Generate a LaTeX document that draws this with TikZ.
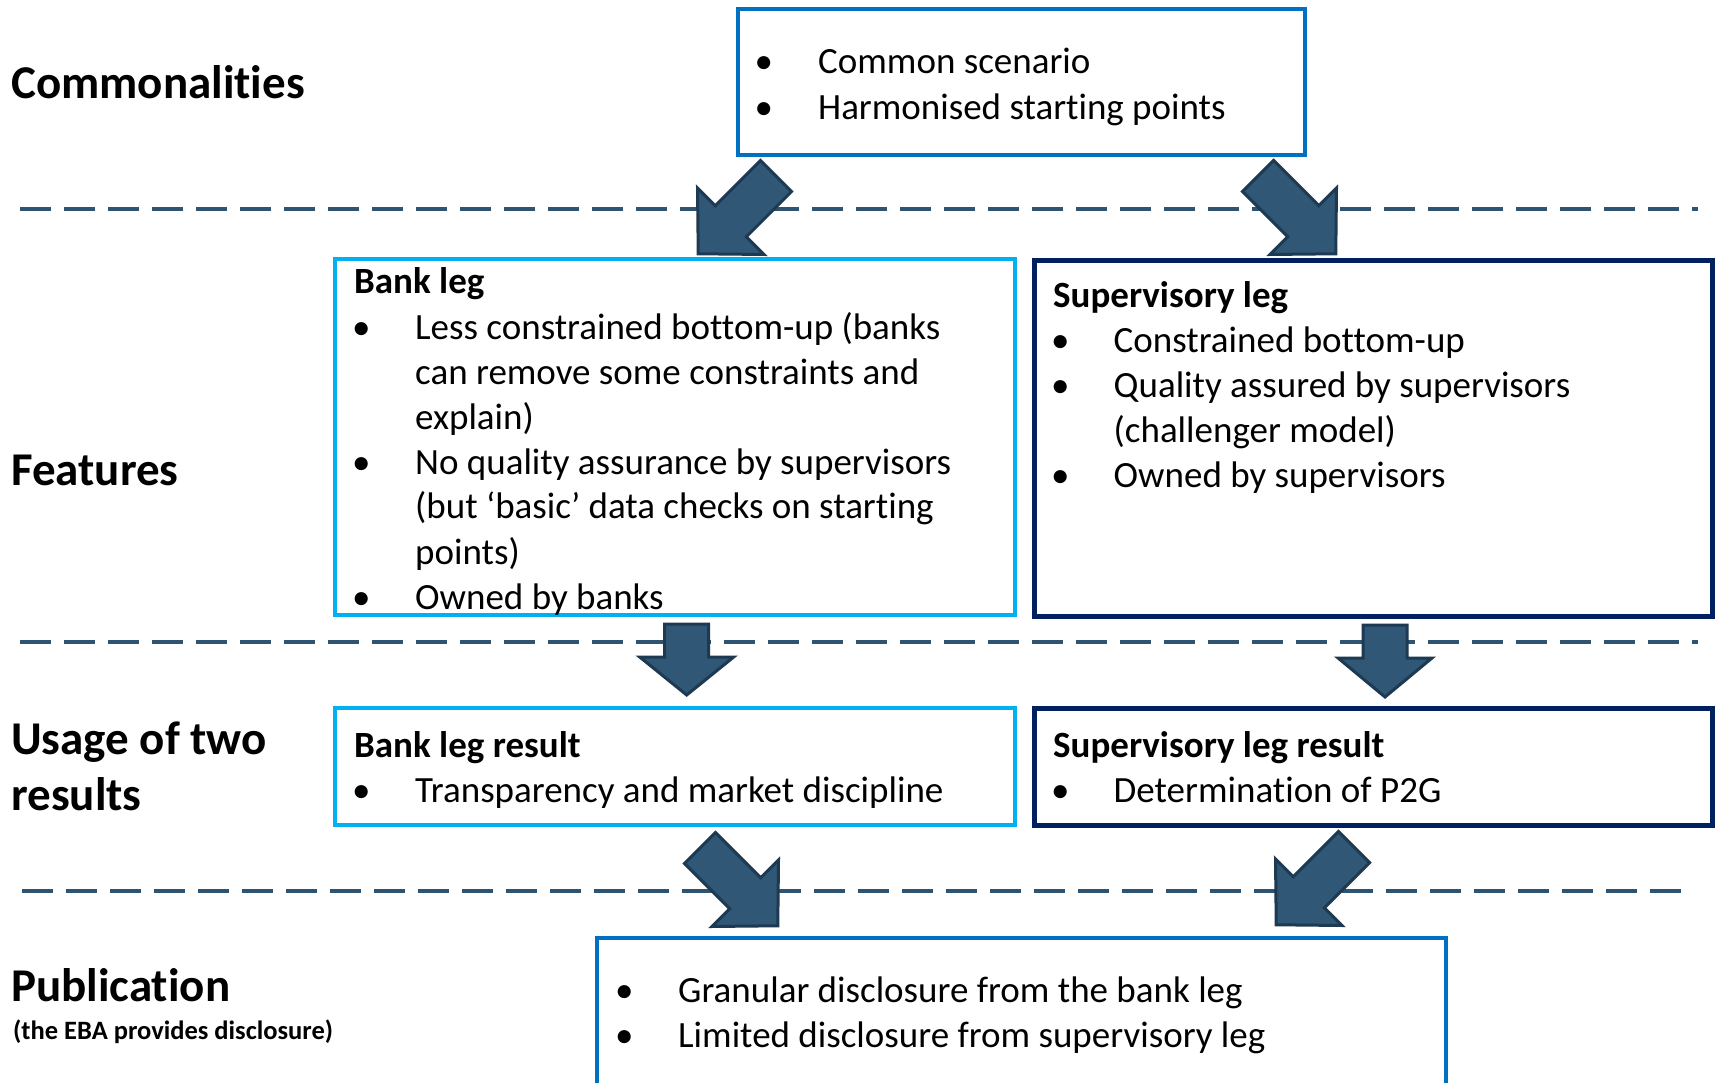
\documentclass[tikz,border=0pt]{standalone}
\usepackage{fontspec}
\setmainfont{Carlito}[Ligatures=NoCommon]
\definecolor{lblue}{RGB}{0,176,240}
\definecolor{mblue}{RGB}{0,112,192}
\definecolor{navyc}{RGB}{0,32,96}
\definecolor{arrfill}{RGB}{48,87,117}
\definecolor{arrdraw}{RGB}{30,57,82}
\definecolor{dashc}{RGB}{46,84,114}
\newcommand\blkarrow[5]{%
  \begin{scope}[shift={(#1,#2)}, rotate=#3]
    \filldraw[blockarrow] (0,22)--({#4-#5},22)--({#4-#5},47)--(#4,0)--({#4-#5},-47)--({#4-#5},-22)--(0,-22)--cycle;
  \end{scope}}
\newcommand\boxhead[1]{\multicolumn{2}{@{}l@{}}{\hspace{2pt}\bfseries #1}}
\begin{document}
\begin{tikzpicture}[x=1pt,y=1pt,
  box/.style={draw=#1, rectangle, inner sep=0pt, outer sep=0pt, anchor=north west},
  body/.style={anchor=base west, inner sep=0pt, font=\fontsize{37}{45}\selectfont},
  head/.style={anchor=base west, inner sep=0pt, font=\fontsize{47}{56}\selectfont\bfseries},
  sep/.style={draw=dashc, line width=3.3pt, dash pattern=on 31pt off 13pt},
  blockarrow/.style={fill=arrfill, draw=arrdraw, line width=3pt, line join=miter}]
\useasboundingbox (0,0) rectangle (1715,-1083);
\clip (0,0) rectangle (1715,-1083);
\fill[white] (0,0) rectangle (1715,-1083);

% separators
\coordinate (s1a) at (20,-209);  \coordinate (s1b) at (1698,-209);
\coordinate (s2a) at (20,-642);  \coordinate (s2b) at (1698,-642);
\coordinate (s3a) at (22,-891);  \coordinate (s3b) at (1682,-891);
\draw[sep] (s1a) -- (s1b);
\draw[sep] (s2a) -- (s2b);
\draw[sep] (s3a) -- (s3b);

% boxes
\node[box=mblue, line width=4.5pt, minimum width=567pt, minimum height=146pt] (bcom) at (738,-9) {};
\node[box=lblue, line width=4pt, minimum width=680pt, minimum height=356pt] (bbank) at (335,-259) {};
\node[box=navyc, line width=5pt, minimum width=678pt, minimum height=355pt] (bsup) at (1034,-261) {};
\node[box=lblue, line width=4pt, minimum width=680pt, minimum height=117pt] (bbankres) at (335,-708) {};
\node[box=navyc, line width=5pt, minimum width=678pt, minimum height=117pt] (bsupres) at (1034,-708) {};
\node[box=mblue, line width=4.5pt, minimum width=849pt, minimum height=200pt] (bpub) at (597,-938) {};

% block arrows
\blkarrow{776}{-176}{225}{110}{46}
\blkarrow{1258}{-176}{-45}{110}{46}
\blkarrow{686.7}{-624}{-90}{71}{38}
\blkarrow{1385}{-625}{-90}{72}{39}
\blkarrow{700}{-848}{-45}{110}{46}
\blkarrow{1354}{-847}{225}{110}{46}

% left labels
\node[head] (hcom) at (11,-99) {Commonalities};
\node[head] (hfeat) at (11,-485) {Features};
\node[head] (husage1) at (11,-754) {Usage of two};
\node[head] (husage2) at (11,-810) {results};
\node[head] (hpub) at (11,-1001) {Publication};
\node[anchor=base west, inner sep=0pt, font=\fontsize{26.5}{32}\selectfont\bfseries] (hpubsub) at (13,-1039) {(the EBA provides disclosure)};

% box contents
\node[body, font=\fontsize{37}{46}\selectfont] (tcom) at (754.5,-74) {\begin{tabular}[t]{@{}p{63.5pt}@{}l@{}}
\textbullet & Common scenario\\
\textbullet & Harmonised starting points
\end{tabular}};

\node[body] (tbank) at (352,-294) {\begin{tabular}[t]{@{}p{63pt}@{}l@{}}
\boxhead{Bank leg}\\
\textbullet & Less constrained bottom-up (banks\\
 & can remove some constraints and\\
 & explain)\\
\textbullet & No quality assurance by supervisors\\
 & (but ‘basic’ data checks on starting\\
 & points)\\
\textbullet & Owned by banks
\end{tabular}};

\node[body] (tsup) at (1051,-307) {\begin{tabular}[t]{@{}p{62.5pt}@{}l@{}}
\boxhead{Supervisory leg}\\
\textbullet & Constrained bottom-up\\
\textbullet & Quality assured by supervisors\\
 & (challenger model)\\
\textbullet & Owned by supervisors
\end{tabular}};

\node[body] (tbankres) at (352,-757) {\begin{tabular}[t]{@{}p{63pt}@{}l@{}}
\boxhead{Bank leg result}\\
\textbullet & Transparency and market discipline
\end{tabular}};

\node[body] (tsupres) at (1051,-757) {\begin{tabular}[t]{@{}p{62.5pt}@{}l@{}}
\boxhead{Supervisory leg result}\\
\textbullet & Determination of P2G
\end{tabular}};

\node[body] (tpub) at (615,-1002) {\begin{tabular}[t]{@{}p{63pt}@{}l@{}}
\textbullet & Granular disclosure from the bank leg\\
\textbullet & Limited disclosure from supervisory leg
\end{tabular}};
\end{tikzpicture}
\end{document}
